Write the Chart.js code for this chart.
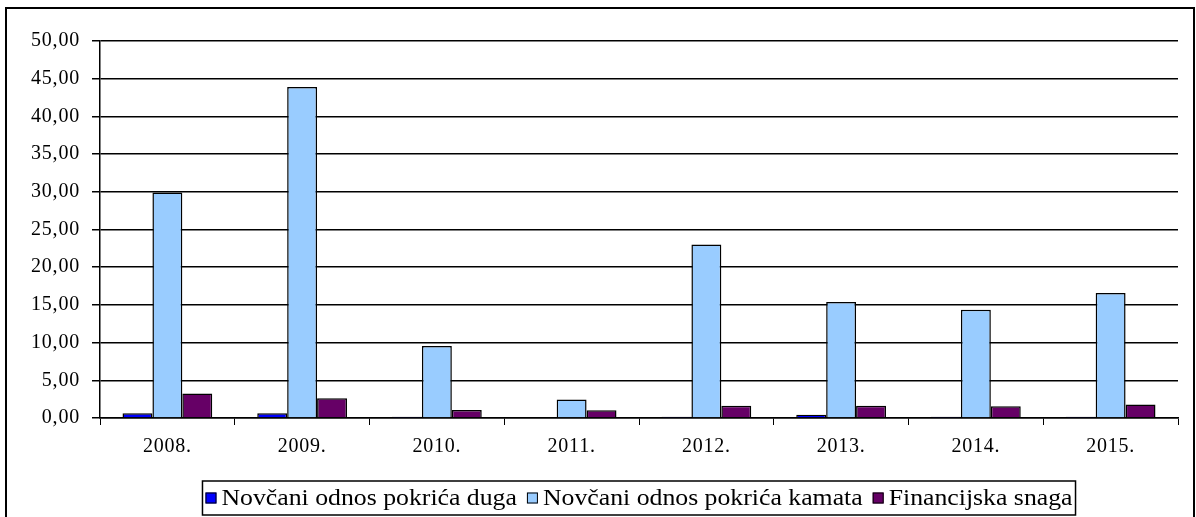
<!DOCTYPE html>
<html>
<head>
<meta charset="utf-8">
<title>Pokazatelji pokrića</title>
<script src="https://cdn.jsdelivr.net/npm/chart.js@4.4.1/dist/chart.umd.min.js"></script>
<style>
    html, body { margin: 0; padding: 0; background: #fff; }
    #wrap { position: relative; width: 1196px; height: 517px; }
</style>
</head>
<body>
<div id="wrap"><canvas id="coverChart" width="1196" height="517"></canvas></div>
<script>
// Years on the x axis
const categories = ['2008.', '2009.', '2010.', '2011.', '2012.', '2013.', '2014.', '2015.'];

// Series values
const pokriceDuga = [0.64, 0.64, 0.15, 0, 0.15, 0.42, 0.15, 0.15];
const pokriceKamata = [29.9, 43.9, 9.55, 2.45, 23.0, 15.37, 14.36, 16.57];
const financijskaSnaga = [3.25, 2.63, 1.05, 1.02, 1.62, 1.62, 1.57, 1.79];

// Y axis tick labels (0 to 50, step 5)
const yTickLabels = ['0,00', '5,00', '10,00', '15,00', '20,00', '25,00', '30,00', '35,00', '40,00', '45,00', '50,00'];

const serif = "'Liberation Serif', 'Times New Roman', serif";

// White background, outer frame, slightly wider lettering for the axis text
const framePlugin = {
    id: 'frame',
    beforeDraw(chart) {
        const ctx = chart.ctx;
        ctx.save();
        ctx.fillStyle = '#fff';
        ctx.fillRect(0, 0, chart.width, chart.height);
        ctx.strokeStyle = '#000';
        ctx.lineWidth = 2;
        ctx.strokeRect(6, 8, 1188, 530);
        ctx.restore();
        ctx.letterSpacing = '0.8px';
    },
    afterDraw(chart) {
        chart.ctx.letterSpacing = '0px';
    }
};

// Boxed legend centred under the plot area
const boxLegendPlugin = {
    id: 'boxLegend',
    afterDraw(chart) {
        const ctx = chart.ctx;
        const area = chart.chartArea;
        const marker = 11, gap = 5, spacing = 10, pad = 3, stretch = 1.12;
        ctx.save();
        ctx.letterSpacing = '0px';
        ctx.font = '23px ' + serif;
        const items = chart.data.datasets.map(ds => ({
            label: ds.label,
            color: ds.backgroundColor,
            tw: ctx.measureText(ds.label).width * stretch
        }));
        items.forEach(it => { it.w = marker + gap + it.tw; });
        const total = items.reduce((s, it) => s + it.w, 0) + spacing * (items.length - 1);
        const boxW = total + pad * 2;
        const boxH = 34;
        const boxX = (area.left + area.right) / 2 - boxW / 2;
        const boxY = 481;
        ctx.strokeStyle = '#000';
        ctx.lineWidth = 1.5;
        ctx.strokeRect(boxX, boxY, boxW, boxH);

        let x = boxX + pad;
        const midY = boxY + boxH / 2;
        items.forEach(it => {
            ctx.fillStyle = it.color;
            ctx.fillRect(x, midY - marker / 2, marker, marker);
            ctx.lineWidth = 1;
            ctx.strokeRect(x + 0.5, midY - marker / 2 + 0.5, marker - 1, marker - 1);
            ctx.save();
            ctx.translate(x + marker + gap, midY + 1);
            ctx.scale(stretch, 1);
            ctx.fillStyle = '#000';
            ctx.textBaseline = 'middle';
            ctx.textAlign = 'left';
            ctx.fillText(it.label, 0, 0);
            ctx.restore();
            x += it.w + spacing;
        });
        ctx.restore();
    }
};

function initCoverChart() {
    const ctx = document.getElementById('coverChart').getContext('2d');

    new Chart(ctx, {
        type: 'bar',
        data: {
            labels: categories,
            datasets: [{
                label: 'Novčani odnos pokrića duga',
                data: pokriceDuga,
                backgroundColor: '#0000FF'
            }, {
                label: 'Novčani odnos pokrića kamata',
                data: pokriceKamata,
                backgroundColor: '#99CCFF'
            }, {
                label: 'Financijska snaga',
                data: financijskaSnaga,
                backgroundColor: '#660066'
            }]
        },
        options: {
            responsive: false,
            animation: false,
            datasets: {
                bar: {
                    borderColor: '#000',
                    borderWidth: 1.5,
                    categoryPercentage: 0.666,
                    barPercentage: 1.0
                }
            },
            layout: {
                padding: { left: 0, right: 18, top: 41, bottom: 59 }
            },
            plugins: {
                legend: { display: false },
                tooltip: { enabled: false }
            },
            scales: {
                x: {
                    grid: {
                        drawOnChartArea: false,
                        drawTicks: true,
                        tickLength: 7,
                        color: '#000',
                        lineWidth: 1
                    },
                    border: { color: '#000', width: 1.5 },
                    ticks: {
                        color: '#000',
                        padding: 10,
                        font: { family: serif, size: 20 }
                    },
                    afterFit(scale) { scale.height = 40; }
                },
                y: {
                    min: 0,
                    max: 50,
                    grid: {
                        color: '#000',
                        lineWidth: 1.5,
                        tickLength: 8
                    },
                    border: { color: '#000', width: 1.5 },
                    ticks: {
                        stepSize: 5,
                        color: '#000',
                        padding: 12,
                        font: { family: serif, size: 20 },
                        callback: function(value, index) {
                            return yTickLabels[index];
                        }
                    },
                    afterFit(scale) { scale.width = 100; }
                }
            }
        },
        plugins: [framePlugin, boxLegendPlugin]
    });
}

document.addEventListener('DOMContentLoaded', initCoverChart);
</script>
</body>
</html>
